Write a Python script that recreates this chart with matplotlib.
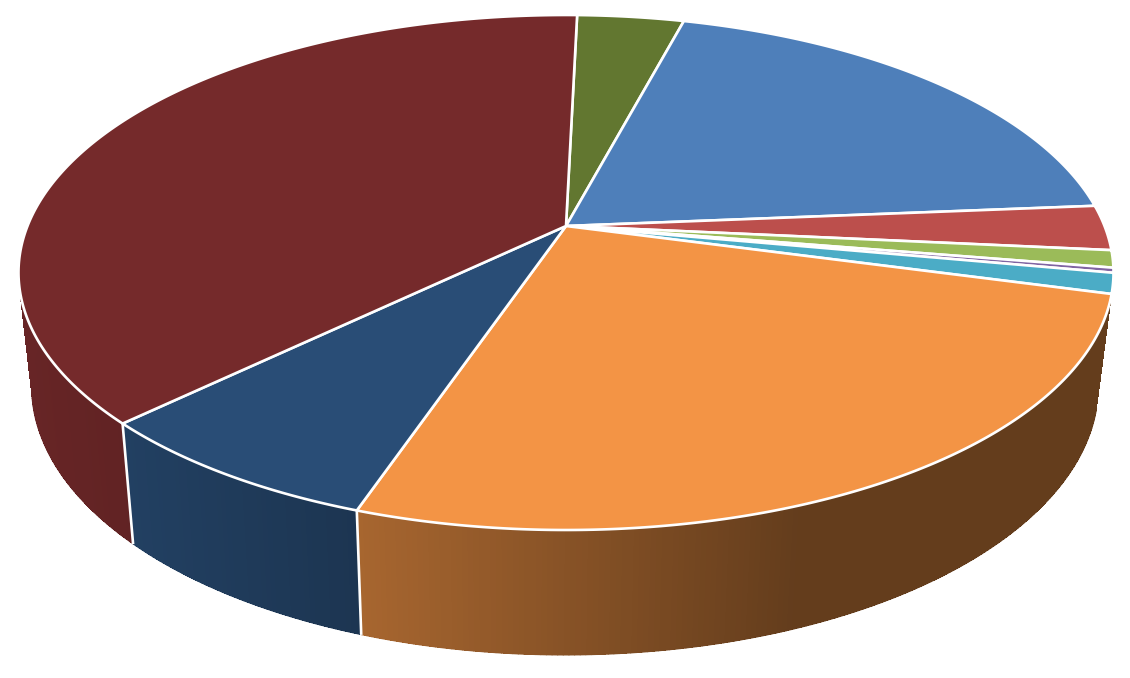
import numpy as np
import matplotlib
matplotlib.use("Agg")
from matplotlib import pyplot as plt
from matplotlib.collections import PolyCollection, LineCollection
from matplotlib.colors import to_rgb

# slice shares in percent, clockwise from the top
names = ["olive", "blue", "red", "lightgreen", "purple", "teal", "orange", "navy", "maroon"]
values = [3.75, 19.55, 2.83, 1.08, 0.31, 1.28, 26.03, 7.58, 37.59]
colors = ["#627730", "#4E7FBA", "#BC4F4C", "#9BBB59", "#8064A2", "#4BACC6", "#F39445", "#294D76", "#752A2B"]

start_angle = 1.4
persp = 0.1806
top_disc = (566, 226, 538.5, 249.1)  # cx, cy, half width, half height
low_disc = (565, 338, 524.5, 260)
wall_from, wall_to = 105.1, 295  # part of the rim where the side wall shows


def project(theta, disc):
    # clockwise degrees from the top of the pie -> pixel coords
    cx, cy, a, b = disc
    t = np.radians(theta)
    u, v = np.sin(t), np.cos(t)
    w = 1 + persp * v
    return cx + a * u / w, cy - b * v / w


def shade(x):
    # side walls get darker going left to right
    return np.interp(x, [30, 130, 360, 800, 1130], [0.88, 0.83, 0.69, 0.41, 0.41])


fig = plt.figure(figsize=(11.3, 6.78), dpi=100, facecolor="white")
ax = fig.add_axes([0, 0, 1, 1])
ax.set_xlim(0, 1130)
ax.set_ylim(678, 0)
ax.axis("off")

edges = start_angle + np.cumsum([0] + values) * 3.6

# side walls, thin strips without antialiasing so no seams show
for i in range(len(values)):
    t0 = max(edges[i], wall_from)
    t1 = min(edges[i + 1], wall_to)
    if t1 <= t0:
        continue
    th = np.linspace(t0, t1, max(int((t1 - t0) * 2), 2))
    xt, yt = project(th, top_disc)
    xb, yb = project(th, low_disc)
    polys, faces, rim = [], [], []
    for j in range(len(th) - 1):
        polys.append([(xt[j], yt[j]), (xt[j + 1], yt[j + 1]), (xb[j + 1], yb[j + 1] - 0.5), (xb[j], yb[j] - 0.5)])
        faces.append(np.array(to_rgb(colors[i])) * shade((xt[j] + xb[j]) / 2))
        rim.append([(xb[j], yb[j] - 0.5), (xb[j + 1], yb[j + 1] - 0.5)])
    ax.add_collection(PolyCollection(polys, facecolors=faces, edgecolors="none", antialiaseds=False, zorder=2))
    # smooth outer edge
    ax.add_collection(LineCollection(rim, colors=faces, linewidths=1.0, capstyle="round", zorder=2))
    # white seam at the start of a visible wall
    if edges[i] >= wall_from:
        x0, y0 = project(edges[i], top_disc)
        x1, y1 = project(edges[i], low_disc)
        ax.plot([x0, x1], [y0, y1], color="white", lw=1.9, zorder=3, solid_capstyle="butt")

# top face
for i in range(len(values)):
    th = np.linspace(edges[i], edges[i + 1], max(int(values[i] * 12), 3))
    x, y = project(th, top_disc)
    x = np.r_[top_disc[0], x]
    y = np.r_[top_disc[1], y]
    ax.fill(x, y, facecolor=colors[i], edgecolor="white", lw=1.9, joinstyle="round", zorder=4)

fig.savefig("out.png", dpi=100, facecolor="white")
